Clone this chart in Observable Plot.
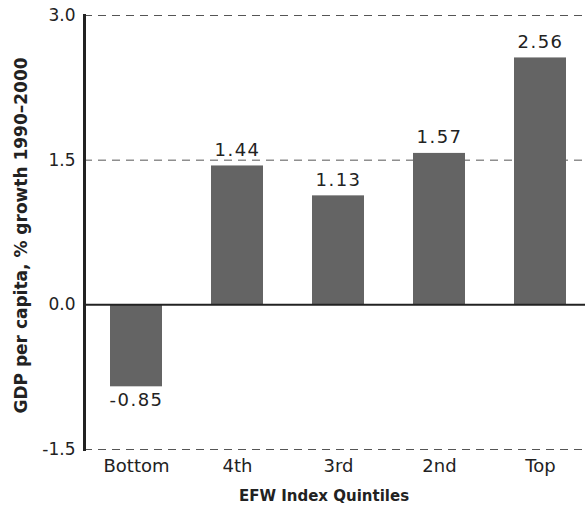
<!DOCTYPE html>
<html>
<head>
<meta charset="utf-8">
<script src="https://cdn.jsdelivr.net/npm/d3@7"></script>
<script src="https://cdn.jsdelivr.net/npm/@observablehq/plot@0.6"></script>
<style>
  html, body { margin: 0; padding: 0; background: #fff; overflow: hidden; }
  svg { display: block; }
</style>
</head>
<body>
<div id="chart"></div>
<script>
const categories = ["Bottom", "4th", "3rd", "2nd", "Top"];
const values = [-0.85, 1.44, 1.13, 1.57, 2.56];
const labels = ["-0.85", "1.44", "1.13", "1.57", "2.56"];
const yTicks = [-1.5, 0, 1.5, 3.0];
const gridTicks = [-1.5, 1.5, 3.0];

const data = categories.map((c, i) => ({cat: c, value: values[i], label: labels[i]}));
const font = "'DejaVu Sans', sans-serif";

const chart = Plot.plot({
  width: 585,
  height: 512,
  marginTop: 15,
  marginBottom: 63,
  marginLeft: 84,
  marginRight: 0,
  style: {fontFamily: font, fontSize: "17px", color: "#222", background: "#fff"},
  x: {domain: categories, range: [84, 591], paddingInner: 0.49, paddingOuter: 0.245, label: null},
  y: {domain: [-1.5, 3.0], label: null},
  marks: [
    Plot.ruleY(gridTicks, {stroke: "#555", strokeWidth: 1, strokeDasharray: "8,6"}),
    Plot.barY(data, {x: "cat", y: "value", fill: "#646464"}),
    Plot.ruleY([0], {stroke: "#222", strokeWidth: 2}),
    Plot.frame({anchor: "left", stroke: "#222", strokeWidth: 3}),
    Plot.text(data.filter(d => d.value >= 0), {x: "cat", y: "value", text: "label", dy: -10, fontSize: 18, fill: "#222", lineAnchor: "bottom"}),
    Plot.text(data.filter(d => d.value < 0), {x: "cat", y: "value", text: "label", dy: 6, fontSize: 18, fill: "#222", lineAnchor: "top"}),
    Plot.axisY({ticks: yTicks, tickFormat: d => d3.format(".1f")(d).replace("−", "-"), tickSize: 0, tickPadding: 9, fontSize: 17, label: null}),
    Plot.axisX({tickSize: 0, tickPadding: 10, fontSize: 18, label: null}),
    Plot.text(["EFW Index Quintiles"], {frameAnchor: "bottom", dx: -11, dy: 41, text: d => d, fontWeight: "bold", fontSize: 15, fill: "#222", lineAnchor: "top"}),
    Plot.text(["GDP per capita, % growth 1990–2000"], {frameAnchor: "left", dx: -63, dy: 3, textAnchor: "middle", text: d => d, rotate: -90, fontWeight: "bold", fontSize: 17, fill: "#222"})
  ]
});
chart.querySelectorAll("text").forEach(t => { if (t.textContent.match(/^\d\.\d\d$|^-0/)) t.setAttribute("letter-spacing", "1.5"); });
document.getElementById("chart").appendChild(chart);
</script>
</body>
</html>
